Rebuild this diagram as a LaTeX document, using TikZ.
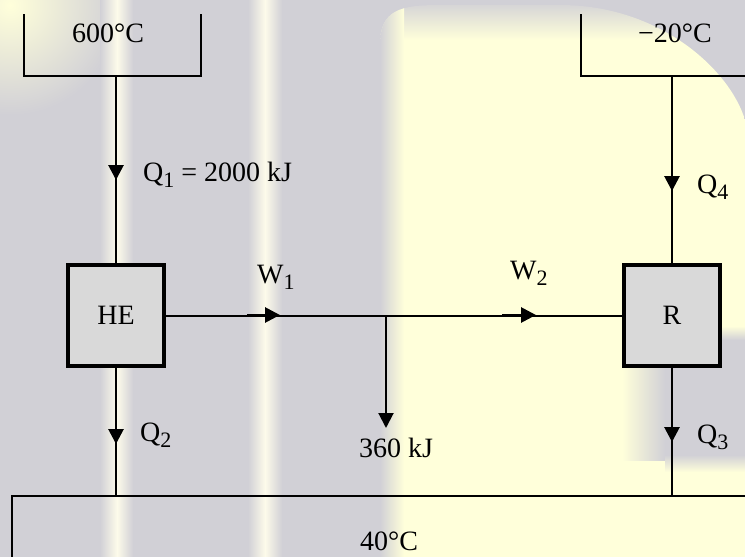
\documentclass[tikz,border=0pt]{standalone}
\usepackage{fontspec}
\setmainfont{Liberation Serif}
\usetikzlibrary{arrows.meta}
\definecolor{bggray}{RGB}{209,208,214}
\definecolor{bgyel}{RGB}{255,255,218}
\definecolor{bgwhite}{RGB}{253,251,234}
\definecolor{boxfill}{RGB}{217,217,217}
\newcommand\sbx[1]{\raisebox{-6pt}{\fontsize{22}{22}\selectfont #1}}
\tikzset{
  lbl/.style={inner sep=0pt, font=\fontsize{28}{32}\selectfont},
  machine/.style={draw, fill=boxfill, line width=4pt, minimum width=96pt, minimum height=101pt, inner sep=0pt, font=\fontsize{28}{32}\selectfont},
  wire/.style={line width=2pt},
  thinwire/.style={line width=1.6pt},
  tipstyle/.style={-{Triangle[length=15pt,width=15pt]}},
  flow/.style={line width=2.8pt, tipstyle},
  stripe/.style={draw=none}
}
\begin{document}
\begin{tikzpicture}[x=1pt,y=-1pt]
\useasboundingbox (0,0) rectangle (745,557);
% background watermark
\fill[bggray] (0,0) rectangle (745,557);
\begin{scope}
\clip (0,0) rectangle (390,557);
\shade[inner color=bgyel, outer color=bggray] (10,5) circle (110);
\end{scope}
\begin{scope}
\clip (380,557) -- (380,45) .. controls (380,10) and (400,5) .. (440,5) -- (560,5) .. controls (660,5) and (730,70) .. (745,120) -- (745,557) -- cycle;
\shade[top color=bggray, bottom color=bgyel] (380,0) rectangle (745,40);
\fill[bgyel] (380,40) rectangle (745,557);
\shade[left color=bggray, right color=bgyel] (380,0) rectangle (404,557);
\end{scope}
\shade[left color=bgyel, right color=bggray] (622,338) rectangle (665,460);
\fill[bggray] (665,338) rectangle (745,460);
\shade[top color=bggray, bottom color=bgyel] (665,455) rectangle (745,472);
\shade[top color=bgyel, bottom color=bggray] (665,326) rectangle (745,340);
\shade[stripe, left color=bggray, right color=bgwhite] (100,0) rectangle (117,557);
\shade[stripe, left color=bgwhite, right color=bggray] (117,0) rectangle (133,557);
\shade[stripe, left color=bggray, right color=bgwhite] (248,0) rectangle (265,557);
\shade[stripe, left color=bgwhite, right color=bggray] (265,0) rectangle (282,557);
% reservoirs
\coordinate (h1) at (24,14);
\coordinate (h2) at (24,76);
\coordinate (h3) at (201,76);
\coordinate (h4) at (201,14);
\coordinate (hout) at (116,76);
\draw[wire] (h1) -- (h2) -- (h3) -- (h4);
\node[lbl] (thot) at (108,33) {600°C};
\coordinate (c1) at (581,14);
\coordinate (c2) at (581,76);
\coordinate (c3) at (745,76);
\coordinate (cout) at (672,76);
\draw[wire] (c1) -- (c2) -- (c3);
\node[lbl] (tcold) at (675,33) {−20°C};
\coordinate (m1) at (12,557);
\coordinate (m2) at (12,496);
\coordinate (m3) at (745,496);
\coordinate (min1) at (116,496);
\coordinate (min2) at (672,496);
\draw[thinwire] (m1) -- (m2) -- (m3);
\node[lbl, anchor=base] (tmid) at (389,550) {40°C};
% machines
\node[machine] (HE) at (116,315.5) {HE};
\node[machine] (R) at (672,315.5) {R};
% connectors
\draw[wire] (hout) -- (HE.north);
\draw[wire] (HE.south) -- (min1);
\draw[wire] (HE.east) -- (R.west);
\draw[wire] (cout) -- (R.north);
\draw[wire] (R.south) -- (min2);
\coordinate (j) at (386,315);
\coordinate (jend) at (386,428);
\draw[wire, tipstyle] (j) -- (jend);
% flow arrows
\coordinate (q1a) at (116,140); \coordinate (q1b) at (116,180);
\draw[flow] (q1a) -- (q1b);
\coordinate (q2a) at (116,404); \coordinate (q2b) at (116,444);
\draw[flow] (q2a) -- (q2b);
\coordinate (q4a) at (672,151); \coordinate (q4b) at (672,191);
\draw[flow] (q4a) -- (q4b);
\coordinate (q3a) at (672,401); \coordinate (q3b) at (672,442);
\draw[flow] (q3a) -- (q3b);
\coordinate (w1a) at (247,315); \coordinate (w1b) at (280,315);
\draw[flow] (w1a) -- (w1b);
\coordinate (w2a) at (502,315); \coordinate (w2b) at (536,315);
\draw[flow] (w2a) -- (w2b);
% labels
\node[lbl, anchor=base west] (lq1) at (143,181) {Q\sbx{1} = 2000 kJ};
\node[lbl, anchor=base west] (lq2) at (140,441) {Q\sbx{2}};
\node[lbl, anchor=base west] (lq3) at (697,443) {Q\sbx{3}};
\node[lbl, anchor=base west] (lq4) at (697,193) {Q\sbx{4}};
\node[lbl, anchor=base west] (lw1) at (257,283) {W\sbx{1}};
\node[lbl, anchor=base west] (lw2) at (510,279) {W\sbx{2}};
\node[lbl, anchor=base] (lwnet) at (396,457) {360 kJ};
\end{tikzpicture}
\end{document}
